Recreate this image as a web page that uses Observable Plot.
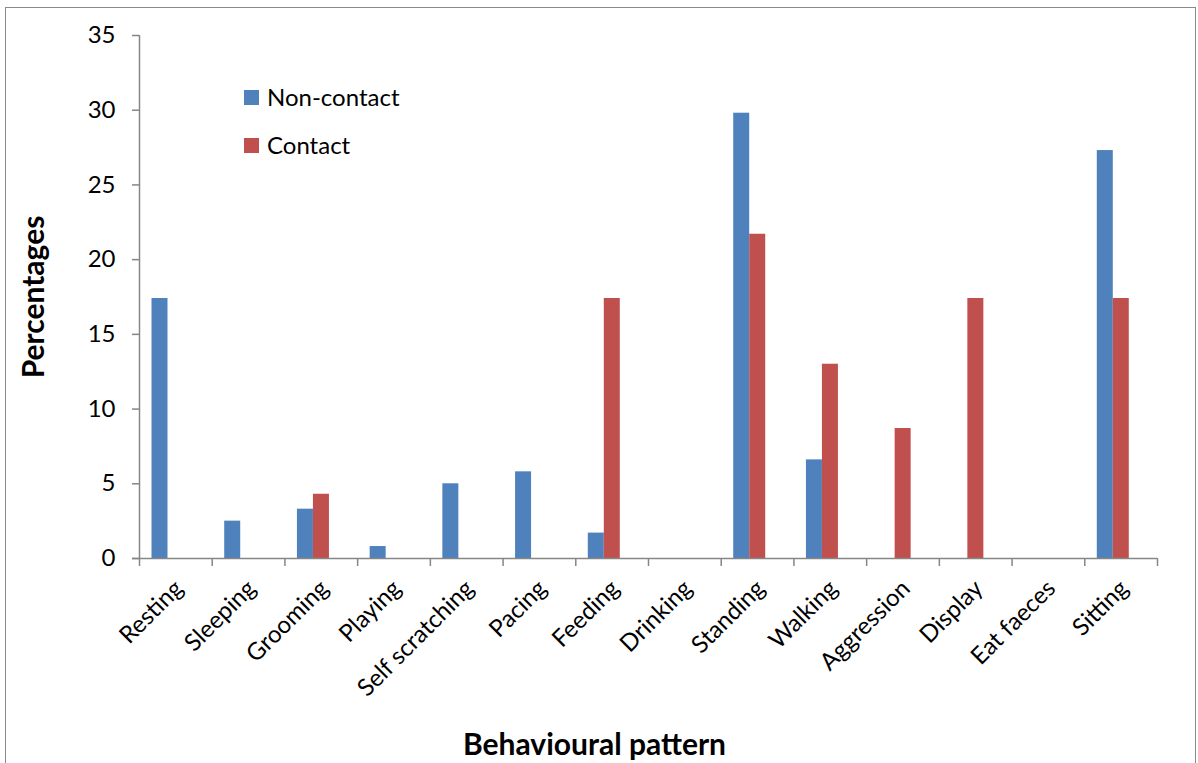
<!DOCTYPE html>
<html>
<head>
<meta charset="utf-8">
<script src="https://cdn.jsdelivr.net/npm/d3@7"></script>
<script src="https://cdn.jsdelivr.net/npm/@observablehq/plot@0.6"></script>
<style>
  html, body { margin: 0; padding: 0; background: #fff; }
  #wrap { position: relative; width: 1198px; height: 763px; overflow: hidden; font-family: Lato, "Open Sans", sans-serif; }
  #wrap svg { position: absolute; left: 0; top: 0; }
  #frame { position: absolute; left: 5px; top: 7px; width: 1191px; height: 800px; border: 1px solid #8a8a8a; box-sizing: border-box; pointer-events: none; }
  .key { position: absolute; left: 244px; display: flex; align-items: center; font-size: 24px; color: #000; line-height: 1; }
  .key span.sw { width: 15px; height: 15px; margin-right: 8px; display: inline-block; }
</style>
</head>
<body>
<div id="wrap">
  <div id="frame"></div>
</div>
<script>
// Behaviour categories along the x axis
const categories = ["Resting", "Sleeping", "Grooming", "Playing", "Self scratching", "Pacing",
  "Feeding", "Drinking", "Standing", "Walking", "Aggression", "Display", "Eat faeces", "Sitting"];
// Percentage of observations per behaviour
const nonContact = [17.4, 2.5, 3.3, 0.8, 5.0, 5.8, 1.7, 0, 29.8, 6.6, 0, 0, 0, 27.3];
const contact    = [0, 0, 4.3, 0, 0, 0, 17.4, 0, 21.7, 13.0, 8.7, 17.4, 0, 17.4];
const seriesNames = ["Non-contact", "Contact"];
const seriesColors = ["#4F81BD", "#C0504D"];
const yTicks = [0, 5, 10, 15, 20, 25, 30, 35];

const W = 1198, H = 763;
const mL = 139, mR = 41, mT = 35, mB = 205;
const bw = (W - mL - mR) / categories.length; // band width per category
const barW = 16, lead = 12.5;                  // bar width and gap before first bar of a group
const axisColor = "#868686";

const rows = categories.map((c, i) => ({category: c, nc: nonContact[i], c: contact[i]}));

const chart = Plot.plot({
  width: W,
  height: H,
  marginLeft: mL,
  marginRight: mR,
  marginTop: mT,
  marginBottom: mB,
  style: {fontFamily: "Lato, 'Open Sans', sans-serif", background: "transparent", overflow: "visible"},
  x: {type: "band", domain: categories, padding: 0, round: false, axis: null},
  y: {domain: [0, 35], axis: null},
  marks: [
    // bars: two series side by side inside each category band
    Plot.barY(rows, {x: "category", y: "nc", fill: seriesColors[0],
      insetLeft: lead, insetRight: bw - lead - barW}),
    Plot.barY(rows, {x: "category", y: "c", fill: seriesColors[1],
      insetLeft: lead + barW, insetRight: bw - lead - 2 * barW}),
    // y axis line and baseline
    Plot.ruleX([categories[0]], {x: d => d, y1: 0, y2: 35, dx: -bw / 2, stroke: axisColor, strokeWidth: 1.5}),
    Plot.ruleY([0], {insetLeft: -7, stroke: axisColor, strokeWidth: 1.5}),
    // category boundary ticks
    Plot.ruleX(categories, {x: d => d, y1: 0, y2: 0, dx: -bw / 2, insetBottom: -8, stroke: axisColor, strokeWidth: 1.5}),
    Plot.ruleX([categories[categories.length - 1]], {x: d => d, y1: 0, y2: 0, dx: bw / 2, insetBottom: -8, stroke: axisColor, strokeWidth: 1.5}),
    // y axis ticks and labels
    Plot.axisY({ticks: yTicks, tickSize: 7, tickPadding: 17, stroke: axisColor, strokeWidth: 1.5,
      fill: "#000", fontSize: 24, label: null}),
    // x tick labels, rotated
    Plot.axisX({tickSize: 0, tickPadding: 26, tickRotate: -45, fontSize: 24, fill: "#000", label: null, dx: 3}),
    // axis titles
    Plot.text(["Percentages"], {text: d => d, frameAnchor: "left", textAnchor: "middle", rotate: -90, dx: -105,
      fontSize: 30, fontWeight: "bold", fill: "#000"}),
    Plot.text(["Behavioural pattern"], {text: d => d, frameAnchor: "bottom", textAnchor: "middle", dx: -54, dy: 187,
      fontSize: 30, fontWeight: "bold", fill: "#000", lineAnchor: "middle"})
  ]
});

const wrap = document.getElementById("wrap");
wrap.insertBefore(chart, wrap.firstChild);

// legend
seriesNames.forEach((name, i) => {
  const k = document.createElement("div");
  k.className = "key";
  k.style.top = (i === 0 ? 85 : 133) + "px";
  k.style.height = "24px";
  k.innerHTML = `<span class="sw" style="background:${seriesColors[i]}"></span><span>${name}</span>`;
  wrap.appendChild(k);
});
</script>
</body>
</html>
